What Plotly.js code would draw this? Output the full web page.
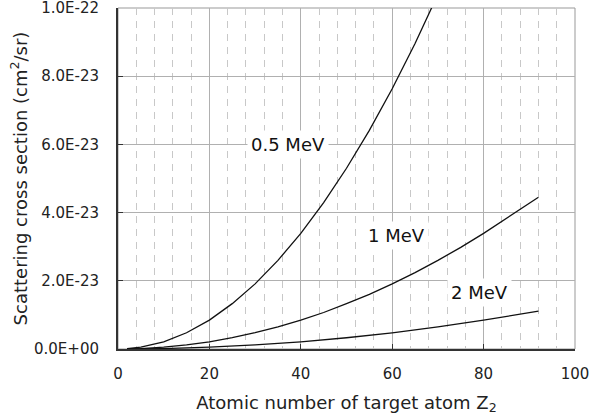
<!DOCTYPE html>
<html><head><meta charset="utf-8">
<script src="https://cdn.plot.ly/plotly-3.0.1.min.js"></script>
<style>html,body{margin:0;padding:0;background:#fff;}</style>
</head><body>
<div id="chart" style="width:593px;height:418px;"></div>
<script>
// Atomic number Z2 and scattering cross sections (cm^2/sr)
const z05 = [2, 5, 10, 15, 20, 25, 30, 35, 40, 45, 50, 55, 60, 65, 70];
const s05 = [8.5e-26, 5.3e-25, 2.12e-24, 4.77e-24, 8.48e-24, 1.33e-23, 1.91e-23, 2.60e-23, 3.39e-23, 4.29e-23, 5.30e-23, 6.41e-23, 7.63e-23, 8.96e-23, 1.04e-22];
const z1 = [2, 5, 10, 15, 20, 25, 30, 35, 40, 45, 50, 55, 60, 65, 70, 75, 80, 85, 90, 92];
const s1 = [2.1e-26, 1.3e-25, 5.3e-25, 1.19e-24, 2.12e-24, 3.31e-24, 4.77e-24, 6.49e-24, 8.48e-24, 1.07e-23, 1.33e-23, 1.60e-23, 1.91e-23, 2.24e-23, 2.60e-23, 2.98e-23, 3.39e-23, 3.83e-23, 4.29e-23, 4.45e-23];
const z2 = [2, 10, 20, 30, 40, 50, 60, 70, 80, 90, 92];
const s2 = [5e-27, 1.3e-25, 5.3e-25, 1.19e-24, 2.11e-24, 3.30e-24, 4.75e-24, 6.47e-24, 8.45e-24, 1.07e-23, 1.11e-23];
const seriesNames = ["0.5 MeV", "1 MeV", "2 MeV"];
const labelZ = [37.3, 61, 79];
const labelS = [6.0e-23, 3.33e-23, 1.67e-23];
const yTickVals = [0, 2e-23, 4e-23, 6e-23, 8e-23, 1e-22];
const yTickText = ["0.0E+00", "2.0E-23", "4.0E-23", "6.0E-23", "8.0E-23", "1.0E-22"];
const xTickVals = [0, 20, 40, 60, 80, 100];

const font = '"DejaVu Sans", "Noto Sans", sans-serif';
const lineStyle = {color: '#111', width: 1.3};
const traces = [[z05, s05], [z1, s1], [z2, s2]].map((d, i) => ({
  x: d[0], y: d[1], type: 'scatter', mode: 'lines', name: seriesNames[i],
  line: lineStyle, hoverinfo: 'skip'
}));

const annotations = seriesNames.map((n, i) => ({
  x: labelZ[i], y: labelS[i], xref: 'x', yref: 'y', text: n, showarrow: false,
  font: {family: font, size: 18, color: '#111'}, bgcolor: '#fff', borderpad: 3
}));

const layout = {
  width: 593, height: 418,
  margin: {l: 118, r: 18, t: 8, b: 69},
  paper_bgcolor: '#fff', plot_bgcolor: '#fff',
  showlegend: false,
  font: {family: font, size: 15, color: '#222'},
  xaxis: {
    range: [0, 100], tickvals: xTickVals, ticks: 'inside', ticklen: 5, tickcolor: '#333',
    showline: true, linecolor: '#333', linewidth: 2,
    showgrid: true, gridcolor: '#b0b0b0', gridwidth: 1, zeroline: false,
    minor: {dtick: 4, showgrid: true, gridcolor: '#c8c8c8', griddash: '7px,6px', gridwidth: 1},
    ticklabelstandoff: 10, ticklabeloverflow: 'allow',
    tickfont: {family: font, size: 15, color: '#222'},
    title: {text: 'Atomic number of target atom Z<sub>2</sub>', font: {family: font, size: 18, color: '#222'}, standoff: 14}
  },
  yaxis: {
    range: [0, 1.00001e-22], tickvals: yTickVals, ticktext: yTickText, ticks: 'inside', ticklen: 5, tickcolor: '#333',
    showline: true, linecolor: '#333', linewidth: 2,
    showgrid: true, gridcolor: '#b0b0b0', gridwidth: 1, zeroline: false,
    ticklabelstandoff: 14, ticklabeloverflow: 'allow',
    tickfont: {family: font, size: 15, color: '#222'},
    title: {text: 'Scattering cross section (cm<sup>2</sup>/sr)', font: {family: font, size: 18, color: '#222'}, standoff: 2}
  },
  shapes: [{type: 'rect', xref: 'paper', yref: 'paper', x0: 0, x1: 1, y0: 0, y1: 1,
            line: {color: '#999', width: 1}, layer: 'below'}],
  annotations: annotations
};
Plotly.newPlot('chart', traces, layout, {displayModeBar: false, staticPlot: true});
</script>
</body></html>
